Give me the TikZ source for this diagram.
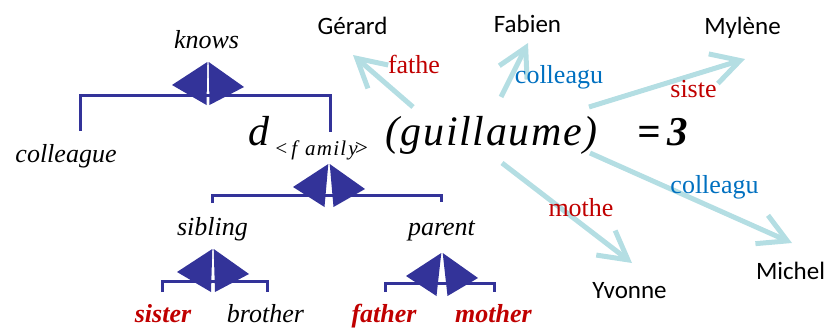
\documentclass[tikz,border=0pt]{standalone}
\usepackage{fontspec}
\setmainfont{Liberation Serif}
\newfontfamily\namefont{Carlito}
\usetikzlibrary{arrows.meta}
\definecolor{jblue}{RGB}{51,51,153}
\definecolor{acyan}{RGB}{180,222,227}
\definecolor{lred}{RGB}{192,0,0}
\definecolor{lblue}{RGB}{0,112,192}
\tikzset{
  tree/.style={font={\fontsize{26}{30}\selectfont\itshape}, inner sep=0pt, anchor=base},
  leaf/.style={font={\fontsize{26}{30}\selectfont\bfseries\itshape}, text=lred, inner sep=0pt, anchor=base},
  person/.style={font={\namefont\fontsize{25}{30}\selectfont}, inner sep=0pt, anchor=base},
  rel/.style={font={\fontsize{26}{30}\selectfont}, inner sep=0pt, anchor=base},
  formula/.style={inner sep=0pt, anchor=base west},
  brk/.style={draw=jblue, line width=3pt, line join=miter},
  link/.style={draw=acyan, line width=5pt, -{Straight Barb[length=28pt,width=31pt]}},
  pics/junc/.style={code={
    \fill[jblue] (-0.7,0) -- (-36,23) -- (-#1,43) -- cycle;
    \fill[jblue] (0.7,0) -- (36,25) -- (#1,43) -- cycle;}}
}
\begin{document}
\begin{tikzpicture}[x=1pt,y=-1pt]
\useasboundingbox (0,0) rectangle (829,327);

% brackets
\coordinate (k1) at (80,131);
\coordinate (k2) at (330,132);
\coordinate (kj) at (208,62);
\draw[brk] (k1) |- (208,95) -| (k2);
\coordinate (f1) at (212,203);
\coordinate (f2) at (441,202);
\coordinate (fj) at (329,164);
\draw[brk] (f1) |- (329,195) -| (f2);
\coordinate (s1) at (162,292);
\coordinate (s2) at (267,292);
\coordinate (sj) at (213,249);
\draw[brk] (s1) |- (213,281) -| (s2);
\coordinate (p1) at (385,292);
\coordinate (p2) at (494,292);
\coordinate (pj) at (442,253);
\draw[brk] (p1) |- (442,283) -| (p2);

\pic at (kj) {junc=1.5};
\pic at (fj) {junc=4.5};
\pic at (sj) {junc=2};
\pic at (pj) {junc=5.5};

% tree labels
\node[tree] (knows) at (206.5,48) {knows};
\node[tree] (colleague) at (66,162) {colleague};
\node[tree] (sibling) at (212.5,235) {sibling};
\node[tree] (parent) at (441.5,235) {parent};
\node[leaf] (sister) at (163,322) {sister};
\node[tree] (brother) at (265.5,322) {brother};
\node[leaf] (father) at (384,322) {father};
\node[leaf] (mother) at (493.5,322) {mother};

% formula
\node[formula, font={\fontsize{42}{46}\selectfont\itshape}] (d) at (248,145) {d};
\node[formula, font={\fontsize{21}{24}\selectfont\itshape}] (family) at (274,155)
  {<\kern3pt f\kern8pt{\addfontfeature{LetterSpace=6}amil}\kern2pt y\kern-4pt\fontsize{23}{24}\selectfont >};
\node[formula, font={\fontsize{42}{46}\selectfont\itshape\addfontfeature{LetterSpace=4}}] (arg) at (385,145) {(guillaume)};
\node[formula, font={\fontsize{41}{46}\selectfont\bfseries\itshape}] (val) at (637,145) {=\kern7pt 3};

% persons
\node[person] (gerard) at (352.5,34) {Gérard};
\node[person] (fabien) at (527.5,32) {Fabien};
\node[person] (mylene) at (742.5,34) {Mylène};
\node[person] (yvonne) at (629.5,298) {Yvonne};
\node[person] (michel) at (790.5,279) {Michel};

% arrows
\coordinate (tG) at (413,107); \coordinate (hG) at (353,55);
\coordinate (tF) at (501,97);  \coordinate (hF) at (528,43);
\coordinate (tM) at (589,107); \coordinate (hM) at (745,59);
\coordinate (tI) at (590,153); \coordinate (hI) at (792,243);
\coordinate (tY) at (502,163); \coordinate (hY) at (632,263);
\draw[link] (tG) -- (hG);
\draw[link] (tF) -- (hF);
\draw[link] (tM) -- (hM);
\draw[link] (tI) -- (hI);
\draw[link] (tY) -- (hY);

% relation labels
\node[rel, text=lred] (rG) at (414,73) {fathe};
\node[rel, text=lblue] (rF) at (559,83) {colleagu};
\node[rel, text=lred] (rM) at (693.5,97) {siste};
\node[rel, text=lblue] (rI) at (714.5,193) {colleagu};
\node[rel, text=lred] (rY) at (581,216) {mothe};
\end{tikzpicture}
\end{document}
